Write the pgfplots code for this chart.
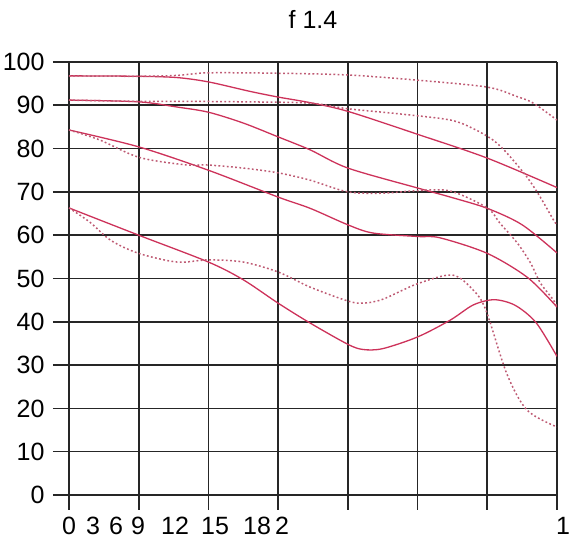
\documentclass[border=0pt]{standalone}
\usepackage{fontspec}
\setmainfont{Liberation Sans}
\usepackage{pgfplots}
\pgfplotsset{compat=1.18}
\definecolor{mtfsolid}{RGB}{205,50,90}
\definecolor{mtfdot}{RGB}{190,90,115}
\begin{document}
\begin{tikzpicture}
\useasboundingbox (-53pt,-27pt) rectangle (520pt,510pt);
\begin{axis}[
 at={(0pt,0pt)}, anchor=south west,
 scale only axis, width=504pt, height=448pt,
 xmin=-0.2295, xmax=7, ymin=-3.464, ymax=100,
 xtick={0,1,2,3,4,5,6,7}, xticklabels={,,,,,,,1},
 ytick={0,10,20,30,40,50,60,70,80,90,100},
 yticklabels={0,10,20,30,40,50,60,70,80,90,100},
 grid=major, major grid style={draw=black!85, line width=1.6pt},
 axis line style={draw=none},
 major tick length=0pt, tick style={draw=none},
 tick label style={font=\fontsize{25}{30}\selectfont},
 xticklabel style={anchor=base, yshift=-25pt, xshift=6pt},
 yticklabel style={xshift=-5pt},
 extra x ticks={0,0.344,0.674,0.99,1.521,2.095,2.697,3.056},
 extra x tick labels={0,3,6,9,12,15,18,2},
 extra x tick style={grid=none, xticklabel style={xshift=-6pt}},
 title={f 1.4},
 title style={font=\fontsize{25}{30}\selectfont, at={(0.5,1)}, anchor=base, yshift=27pt, xshift=8pt},
 every axis plot/.append style={smooth, tension=0.5},
 mtfs/.style={draw=mtfsolid, line width=1.3pt},
 mtfd/.style={draw=mtfdot, line width=1.5pt, dash pattern=on 1.8pt off 2.4pt},
]
% solid A
\addplot[mtfs] coordinates {(0,96.8)(1,96.7)(1.55,96.4)(2,95.4)(2.6,93.2)(3,91.9)(3.46,90.6)(4,88.6)(5,83.3)(6,77.8)(7,71)};
% solid B
\addplot[mtfs] coordinates {(0,91.2)(1,90.8)(1.55,89.6)(2,88.4)(2.5,85.9)(3,82.7)(3.46,79.7)(4,75.5)(5,70.9)(5.47,68.8)(6,66.2)(6.5,62.4)(7,55.9)};
% solid C
\addplot[mtfs] coordinates {(0,84.3)(1,80.4)(2,75)(3,68.8)(3.46,66.2)(4,62.4)(4.36,60.5)(5,59.7)(5.32,59.4)(6,55.8)(6.58,50.2)(7,43.4)};
% solid D
\addplot[mtfs] coordinates {(0,66.3)(1,60)(2,53.8)(2.5,49.7)(3,44.3)(3.46,39.7)(4,34.8)(4.22,33.6)(4.5,33.8)(5,36.5)(5.47,40.4)(5.8,43.9)(6.1,45.1)(6.4,43.8)(6.7,39.8)(7,32)};
% dotted E
\addplot[mtfd] coordinates {(0,96.8)(1,96.7)(1.55,96.9)(2,97.5)(3,97.4)(4,97)(5,95.8)(6,94.2)(6.43,92)(6.66,90.5)(7,86.6)};
% dotted F
\addplot[mtfd] coordinates {(0,91.2)(1,90.9)(1.74,90.9)(2.5,90.8)(3.46,90.5)(4,89.2)(4.75,88)(5.47,86.6)(5.8,84.6)(6.08,82)(6.28,79)(6.57,73.4)(6.76,68.8)(6.95,63.5)(7,62.4)};
% dotted G
\addplot[mtfd] coordinates {(0,84.3)(0.44,82)(1,78)(1.64,76.3)(2,76.2)(2.5,75.5)(3,74.4)(3.46,72.7)(4,70)(4.5,69.7)(5,70.3)(5.47,70.2)(6,66.3)(6.18,62.8)(6.43,58.2)(6.62,53.6)(6.76,49)(6.95,45)(7,43.4)};
% dotted H
\addplot[mtfd] coordinates {(0,66.3)(0.3,63)(0.6,58.8)(1,55.8)(1.55,53.8)(2,54.3)(2.5,53.8)(3,51.5)(3.46,48)(4,44.8)(4.22,44.3)(4.5,45.2)(5,48.8)(5.5,50.8)(5.8,47.3)(5.98,42.7)(6.28,28)(6.57,19.6)(7,15.7)};
\end{axis}
\end{tikzpicture}
\end{document}
